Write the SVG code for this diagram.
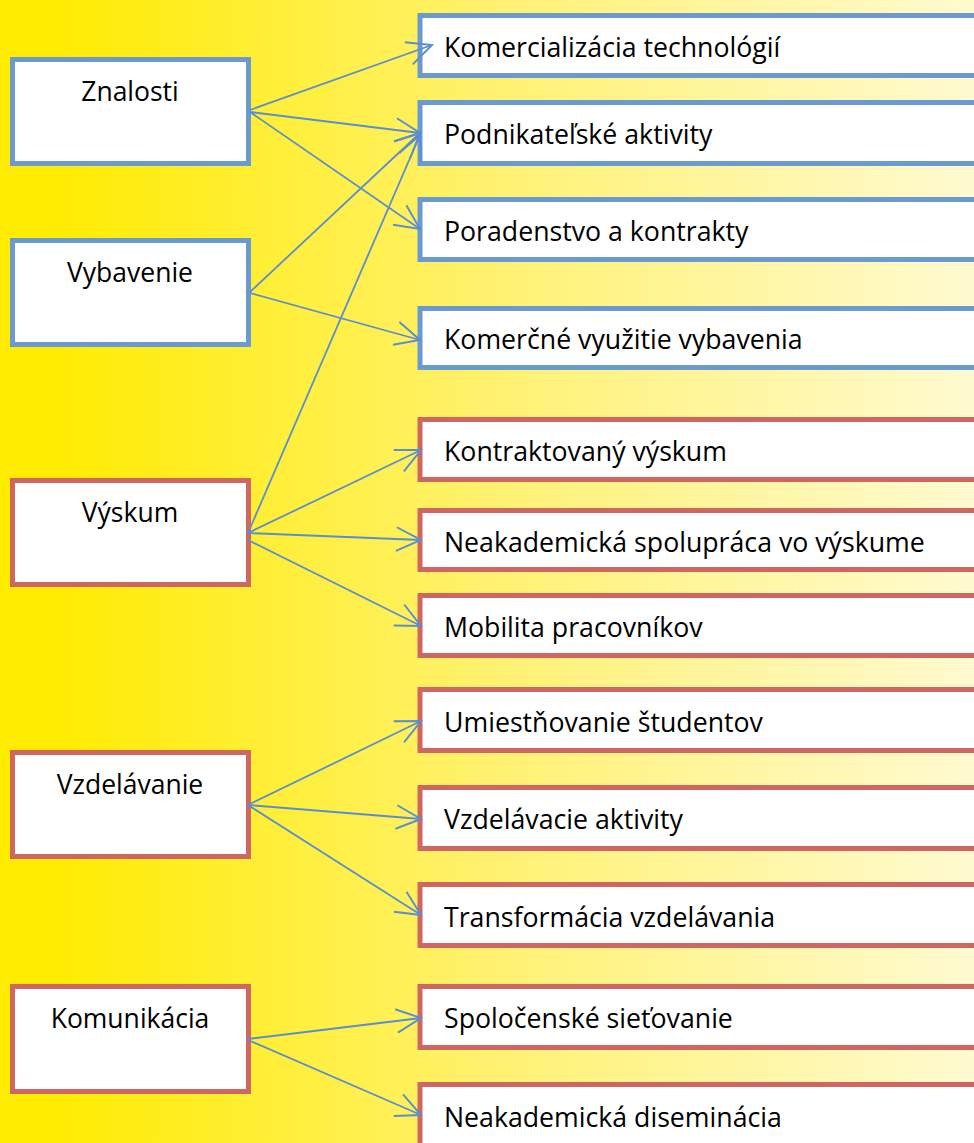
<svg xmlns="http://www.w3.org/2000/svg" width="974" height="1143" viewBox="0 0 974 1143">
<defs>
<linearGradient id="bg" x1="0" y1="0" x2="974" y2="0" gradientUnits="userSpaceOnUse">
<stop offset="0" stop-color="#FFEC00"/>
<stop offset="0.05" stop-color="#FFEC00"/>
<stop offset="0.25" stop-color="#FFEE30"/>
<stop offset="0.55" stop-color="#FFF27A"/>
<stop offset="1" stop-color="#FFFAD0"/>
</linearGradient>
<marker id="arr" markerUnits="userSpaceOnUse" markerWidth="30" markerHeight="30" viewBox="-26 -13 28 26" refX="0" refY="0" orient="auto">
<path d="M -23 -11 L 0 0 L -23 11" fill="none" stroke="#5A8ED0" stroke-width="1.8"/>
</marker>
</defs>
<style>
.box{fill:#FFFFFF;stroke-width:5}
.blue{stroke:#6A9ACF}
.red{stroke:#CF6662}
.lt{font-family:"Open Sans","DejaVu Sans",sans-serif;font-size:26.5px;fill:#000;text-anchor:middle}
.rt{font-family:"Open Sans","DejaVu Sans",sans-serif;font-size:26.7px;fill:#000}
.c{fill:none;stroke:#5A8ED0;stroke-width:1.8;marker-end:url(#arr)}
</style>
<rect x="0" y="0" width="974" height="1143" fill="url(#bg)"/>

<g id="znalosti"><rect class="box blue" x="12.5" y="59.5" width="236" height="104"/><text class="lt" x="130" y="101">Znalosti</text></g>
<g id="vybavenie"><rect class="box blue" x="12.5" y="240.5" width="236" height="104"/><text class="lt" x="130" y="282">Vybavenie</text></g>
<g id="vyskum"><rect class="box red" x="12.5" y="480.5" width="236" height="104"/><text class="lt" x="130" y="522">Výskum</text></g>
<g id="vzdelavanie"><rect class="box red" x="12.5" y="752.5" width="236" height="104"/><text class="lt" x="130" y="794">Vzdelávanie</text></g>
<g id="komunikacia"><rect class="box red" x="12.5" y="986.5" width="236" height="105"/><text class="lt" x="130" y="1028">Komunikácia</text></g>

<g id="komercializacia"><rect class="box blue" x="420" y="15.5" width="600" height="60"/><text class="rt" x="444" y="57">Komercializácia technológií</text></g>
<g id="podnikatelske"><rect class="box blue" x="420" y="102.5" width="600" height="61"/><text class="rt" x="444" y="144">Podnikateľské aktivity</text></g>
<g id="poradenstvo"><rect class="box blue" x="420" y="199.5" width="600" height="60"/><text class="rt" x="444" y="241">Poradenstvo a kontrakty</text></g>
<g id="komercne"><rect class="box blue" x="420" y="308.5" width="600" height="59"/><text class="rt" x="444" y="349">Komerčné využitie vybavenia</text></g>
<g id="kontraktovany"><rect class="box red" x="420" y="419.5" width="600" height="60"/><text class="rt" x="444" y="461">Kontraktovaný výskum</text></g>
<g id="spolupraca"><rect class="box red" x="420" y="510.5" width="600" height="59"/><text class="rt" x="444" y="552">Neakademická spolupráca vo výskume</text></g>
<g id="mobilita"><rect class="box red" x="420" y="595.5" width="600" height="60"/><text class="rt" x="444" y="637">Mobilita pracovníkov</text></g>
<g id="umiestnovanie"><rect class="box red" x="420" y="689.5" width="600" height="61"/><text class="rt" x="444" y="732">Umiestňovanie študentov</text></g>
<g id="vzdelavacie"><rect class="box red" x="420" y="787.5" width="600" height="61"/><text class="rt" x="444" y="829">Vzdelávacie aktivity</text></g>
<g id="transformacia"><rect class="box red" x="420" y="884.5" width="600" height="61"/><text class="rt" x="444" y="927">Transformácia vzdelávania</text></g>
<g id="spolocenske"><rect class="box red" x="420" y="986.5" width="600" height="61"/><text class="rt" x="444" y="1028">Spoločenské sieťovanie</text></g>
<g id="diseminacia"><rect class="box red" x="420" y="1084.5" width="600" height="61"/><text class="rt" x="444" y="1127">Neakademická diseminácia</text></g>

<g id="connectors">
<line class="c" x1="250" y1="110" x2="432" y2="45"/>
<line class="c" x1="250" y1="112" x2="420" y2="133"/>
<line class="c" x1="250" y1="112" x2="420" y2="229"/>
<line class="c" x1="250" y1="292" x2="420" y2="133"/>
<line class="c" x1="250" y1="293" x2="420" y2="340"/>
<line class="c" x1="248" y1="533" x2="420" y2="135"/>
<line class="c" x1="248" y1="533" x2="421" y2="450"/>
<line class="c" x1="248" y1="533" x2="421" y2="540"/>
<line class="c" x1="248" y1="540" x2="421" y2="626"/>
<line class="c" x1="248" y1="805" x2="421" y2="721"/>
<line class="c" x1="248" y1="805" x2="421" y2="819"/>
<line class="c" x1="248" y1="805" x2="421" y2="915"/>
<line class="c" x1="248" y1="1039" x2="421" y2="1018"/>
<line class="c" x1="248" y1="1040" x2="421" y2="1115"/>
</g>
</svg>
